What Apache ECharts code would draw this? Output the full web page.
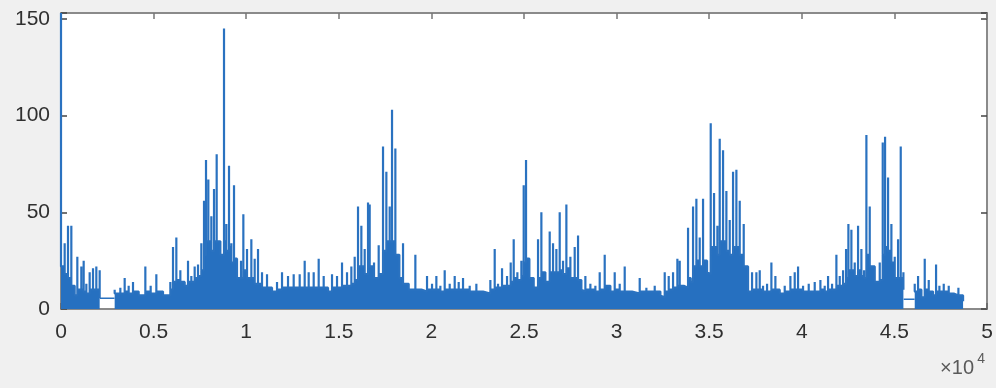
<!DOCTYPE html>
<html>
<head>
<meta charset="utf-8">
<script src="https://cdn.jsdelivr.net/npm/echarts@6/dist/echarts.min.js"></script>
<style>
html,body{margin:0;padding:0;background:#f0f0f0;}
#chart{width:996px;height:388px;}
</style>
</head>
<body>
<div id="chart"></div>
<script>
// sample index of each visible spike
const spikeX = [0,198,378,558,738,882,1098,1224,1368,1548,1728,1908,2088,
2898,3204,3438,3654,3888,4194,4554,4842,5148,5508,5904,6048,6228,6444,6678,6858,7038,7218,7398,7578,7722,7830,7956,8118,8262,8406,8604,8802,8928,9072,9198,9342,9504,9720,9846,10044,10278,10458,10638,10854,11124,11394,11664,11934,12258,12564,12888,13158,13374,13644,13914,14184,14418,14634,14904,15174,15444,15678,15858,16038,16218,16398,16578,
16668,16902,17154,17388,17568,17748,17874,18054,18270,18468,18774,19134,19458,19764,20034,20268,20484,20718,20988,21258,21474,21708,22068,22428,22788,23184,23418,23598,23814,24084,24282,24444,24642,24858,24984,25110,25290,25524,25758,25938,26154,26388,26568,26748,26928,27108,27288,27504,27738,27918,28098,28314,28584,28854,29088,29358,29664,29898,30168,30438,30834,31248,31608,32058,32364,32598,32814,33048,33282,
33408,33624,33858,34002,34128,34308,34488,34668,34884,35082,35262,35442,35568,35748,35928,36108,36288,36468,36648,36864,37098,37314,37548,37728,37908,38124,38358,38574,38808,39078,39384,39618,39798,40068,40374,40698,41004,41238,41418,41634,41868,42048,42228,42390,42516,42678,42858,43038,43218,43362,43488,43668,43938,44208,44370,44496,44658,44838,45018,45198,45342,45486,
46098,46278,46458,46638,46854,47088,47250,47430,47664,47934,48204,48456,48708];
// spike top value
const spikePeak = [153,34,43,43,10,27,22,25,13,19,21,22,20,
10,11,16,12,14,9,22,12,18,9,14,32,37,20,15,25,17,22,23,34,56,77,67,48,62,80,36,145,44,74,34,64,20,25,49,31,36,26,31,19,18,12,14,19,17,18,18,25,19,19,26,17,12,18,17,24,19,22,27,53,43,31,55,
54,24,33,84,71,53,103,83,27,34,13,28,10,17,13,17,12,20,13,17,14,16,12,13,10,15,31,13,21,17,24,36,19,25,64,77,27,13,36,50,17,40,34,31,50,25,54,27,32,38,10,17,13,12,19,28,11,19,13,22,10,16,11,12,7,19,17,19,26,
25,13,42,17,53,57,37,57,19,96,60,43,88,82,61,46,71,72,56,44,12,19,19,20,12,13,24,17,9,12,17,19,22,12,13,14,15,12,17,13,28,17,20,31,44,41,24,43,31,20,90,53,22,24,86,89,68,44,27,36,84,19,
13,17,8,26,15,10,23,12,13,12,9,11,6];
// solidly filled level right after each spike
const spikeBase = [22,18,16,12,7,10,10,9,8,10,10,10,5.5,
8,8,9,8,9,7,9,8,9,7,10,14,15,14,12,14,14,16,17,20,28,35,35,30,35,35,28,35,30,32,24,26,16,16,20,16,16,13,13,11,11,9,10,11,11,11,11,11,11,11,11,11,9,11,11,12,12,13,15,22,22,18,22,
22,16,18,30,35,35,35,28,16,13,10,10,9,10,10,10,9,10,10,10,10,10,9,9,8,10,11,11,12,12,14,16,15,17,24,26,16,11,16,19,14,19,19,19,20,18,21,16,16,15,9,10,10,9,10,12,9,10,9,9,8,9,9,9,6,9,10,11,12,
12,11,16,14,22,25,22,25,18,32,32,28,35,35,30,28,32,32,28,22,9,10,10,10,9,9,10,10,8,9,10,10,10,9,9,9,10,9,10,10,12,12,13,16,20,20,17,20,17,16,28,22,14,15,28,32,30,24,16,16,16,10,
9,10,6,10,9,7,9,9,9,8,7,7,4];
// flat stretches where the trace is a single constant line
const gapStartX = [2100, 45500];
const gapEndX = [2890, 46090];
const gapLevel = [5.5, 5];
const breakAfterX = [2088, 45486];
// axis ticks
const xTickValues = [0,5000,10000,15000,20000,25000,30000,35000,40000,45000,50000];
const yTickValues = [0,50,100,150];

const mainData = [];
for (let i = 0; i < spikeX.length; i++) {
  const prevBroken = i === 0 || breakAfterX.indexOf(spikeX[i-1]) >= 0;
  if (!prevBroken) mainData.push([spikeX[i], spikeBase[i-1]]);
  mainData.push([spikeX[i], spikePeak[i]]);
  mainData.push([spikeX[i], spikeBase[i]]);
  if (breakAfterX.indexOf(spikeX[i]) >= 0) mainData.push([spikeX[i], '-']);
}
const gapSeries = gapStartX.map((s, k) => ({
  type: 'line', xAxisIndex: 0, yAxisIndex: 0, showSymbol: false, silent: true,
  lineStyle: {color: '#2a72c0', width: 1.5},
  data: [[s, gapLevel[k]], [gapEndX[k], gapLevel[k]]],
  z: 3
}));

const axisCol = '#8a8a8a';
const chart = echarts.init(document.getElementById('chart'));
chart.setOption({
  animation: false,
  backgroundColor: '#f0f0f0',
  grid: {left: 61, right: 9, top: 13, bottom: 79, show: true, backgroundColor: '#ffffff', borderWidth: 0},
  xAxis: [{
    type: 'value', min: 0, max: 50000, interval: 5000, position: 'bottom',
    axisLine: {show: true, lineStyle: {color: axisCol, width: 2}},
    axisTick: {show: true, inside: true, length: 6, lineStyle: {color: '#666', width: 1.5}},
    splitLine: {show: false},
    axisLabel: {margin: 13, color: '#303030', fontSize: 21, fontFamily: 'Liberation Sans, Arial, sans-serif',
      formatter: v => xTickValues.indexOf(v) >= 0 ? String(v / 10000) : ''}
  }, {
    type: 'value', min: 0, max: 50000, interval: 5000, position: 'top',
    axisLine: {show: true, onZero: false, lineStyle: {color: axisCol, width: 2}},
    axisTick: {show: true, inside: true, length: 6, lineStyle: {color: '#777', width: 1.5}},
    splitLine: {show: false}, axisLabel: {show: false}
  }],
  yAxis: [{
    type: 'value', min: 0, max: 153, interval: 50, position: 'left',
    axisLine: {show: true, lineStyle: {color: axisCol, width: 2}},
    axisTick: {show: true, inside: true, length: 6, lineStyle: {color: '#444', width: 1.5}},
    splitLine: {show: false},
    axisLabel: {margin: 11, color: '#303030', fontSize: 21, fontFamily: 'Liberation Sans, Arial, sans-serif',
      formatter: v => yTickValues.indexOf(v) >= 0 ? String(v) : ''}
  }, {
    type: 'value', min: 0, max: 153, interval: 50, position: 'right',
    axisLine: {show: true, onZero: false, lineStyle: {color: axisCol, width: 2}},
    axisTick: {show: true, inside: true, length: 6, lineStyle: {color: '#444', width: 1.5}},
    splitLine: {show: false}, axisLabel: {show: false}
  }],
  graphic: [
    {type: 'text', right: 22, bottom: 10, style: {text: '×10', fill: '#5a5a5a', font: '20px Liberation Sans, Arial, sans-serif'}},
    {type: 'text', right: 11, bottom: 22, style: {text: '4', fill: '#5a5a5a', font: '14px Liberation Sans, Arial, sans-serif'}}
  ],
  series: [{
    type: 'line', xAxisIndex: 0, yAxisIndex: 0, showSymbol: false, silent: true,
    connectNulls: false,
    lineStyle: {color: '#2a72c0', width: 2.2},
    areaStyle: {color: '#2670c0', opacity: 1, origin: 'start'},
    data: mainData,
    z: 2
  }].concat(gapSeries)
});
</script>
</body>
</html>
